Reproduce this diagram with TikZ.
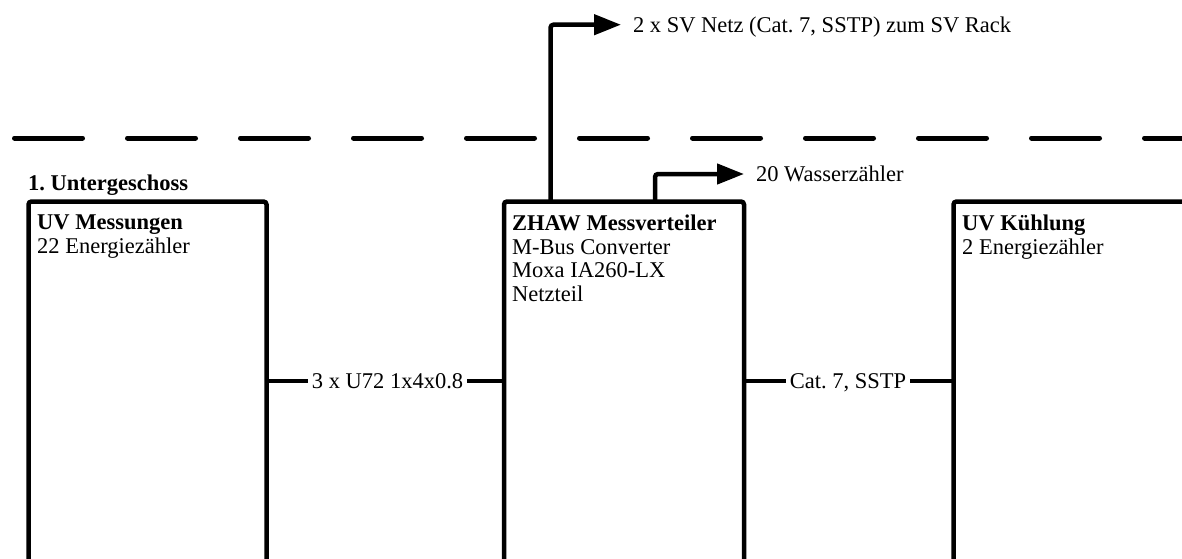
\documentclass[tikz,border=0pt]{standalone}
\usepackage{fontspec}
\setmainfont{Liberation Serif}
\usetikzlibrary{arrows.meta,calc}
\frenchspacing
\begin{document}
\begin{tikzpicture}[x=1pt,y=-1pt,
  every node/.style={font=\fontsize{22.5}{23.5}\selectfont},
  boxshape/.style={draw,line width=4.5pt,rounded corners=3pt,inner sep=0pt,outer sep=0pt,anchor=north west},
  boxtext/.style={anchor=north west,inner sep=0pt,align=left},
  conn/.style={line width=4.5pt},
  arrowconn/.style={line width=4.5pt,rounded corners=3pt,-{Triangle[length=27pt,width=20pt]}},
  lbl/.style={inner xsep=4pt,inner ysep=0pt,outer sep=0pt,text height=15pt,text depth=0pt},
  arrlbl/.style={anchor=west,inner xsep=12pt,inner ysep=0pt,outer sep=0pt,text height=15pt,text depth=0pt},
  dashline/.style={line width=5pt,line cap=round,dash pattern=on 68pt off 45pt}
]
\useasboundingbox (0,0) rectangle (1182,558);
\clip (0,0) rectangle (1182,558);

% floor separator
\draw[dashline] (14.5,138) -- (1200,138);

% floor title
\node[anchor=base west,inner sep=0pt,font=\fontsize{22.5}{23.5}\selectfont\bfseries] (floor) at (28,190.7) {1. Untergeschoss};

% boxes
\node[boxshape,minimum width=238pt,minimum height=420pt] (b1) at (28.5,201.5) {};
\node[boxshape,minimum width=240pt,minimum height=420pt] (b2) at (504,201.5) {};
\node[boxshape,minimum width=300pt,minimum height=420pt] (b3) at (953.5,201.5) {};

% box texts
\node[boxtext] (t1) at (37,215) {\textbf{UV Messungen}\\22 Energiezähler};
\node[boxtext] (t2) at (512,215) {\textbf{ZHAW Messverteiler}\\M-Bus Converter\\Moxa IA260-LX\\Netzteil};
\node[boxtext] (t3) at (962,215) {\textbf{UV Kühlung}\\2 Energiezähler};

% cable labels
\node[lbl] (l1) at (387.5,381) {3 x U72 1x4x0.8};
\node[lbl] (l2) at (848,381) {Cat. 7, SSTP};

\draw[conn] (b1.north east |- l1.west) -- (l1.west);
\draw[conn] (l1.east) -- (b2.north west |- l1.east);
\draw[conn] (b2.north east |- l2.west) -- (l2.west);
\draw[conn] (l2.east) -- (b3.north west |- l2.east);

% outgoing arrows
\node[arrlbl] (sv) at (621,24.7) {2 x SV Netz (Cat. 7, SSTP) zum SV Rack};
\node[arrlbl] (wz) at (744,174) {20 Wasserzähler};
\draw[arrowconn] ($(b2.north west)+(46.5,0)$) |- (sv.west);
\draw[arrowconn] ($(b2.north west)+(151,0)$) |- (wz.west);
\end{tikzpicture}
\end{document}
